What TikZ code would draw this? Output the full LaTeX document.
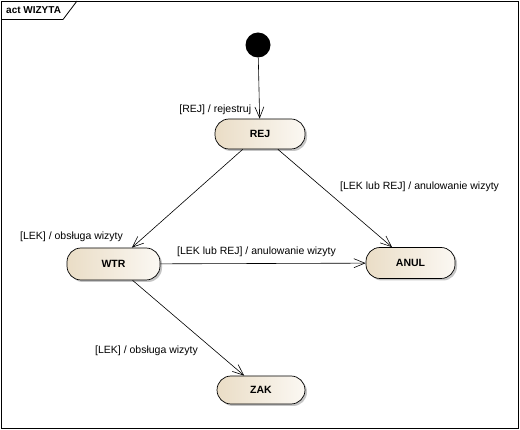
\documentclass[tikz,border=0pt]{standalone}
\usepackage{fontspec}
\setmainfont{Liberation Sans}
\usetikzlibrary{arrows.meta}
\usetikzlibrary{shadows}

\definecolor{stateleft}{HTML}{EADDC6}
\definecolor{stateright}{HTML}{FBF8F3}

\tikzset{
  state/.style={draw, line width=0.7pt, rounded corners=14pt, minimum width=90pt, minimum height=30pt,
    left color=stateleft, right color=stateright, font=\bfseries\fontsize{10.5}{12}\selectfont,
    drop shadow={shadow xshift=2pt, shadow yshift=-2pt, fill=black!45, opacity=0.5}},
  guard/.style={inner sep=0pt, font=\fontsize{10.5}{12}\selectfont},
  trans/.style={-{Straight Barb[length=11pt,width=9pt]}, line width=0.6pt},
}

\begin{document}
\begin{tikzpicture}[x=1pt, y=-1pt]
            \useasboundingbox (0,0) rectangle (520,430);
            % frame
            \draw[line width=0.8pt] (1,1) rectangle (518.5,428.5);
            \draw[line width=0.8pt] (1,19.5) -- (63,19.5) -- (77,1);
            \node[anchor=west, inner sep=0pt, font=\bfseries\fontsize{10}{12}\selectfont] (title) at (6,10) {act WIZYTA};
            % states
            \node[circle, fill=black, minimum size=25pt, inner sep=0pt] (start) at (258,45) {};
            \node[state] (REJ) at (260,134) {REJ};
            \node[state, minimum width=93pt, minimum height=32pt] (WTR) at (113.5,264) {WTR};
            \node[state, minimum width=89pt, minimum height=31pt] (ANUL) at (410.5,263) {ANUL};
            \node[state, minimum width=88pt, minimum height=28pt] (ZAK) at (261,390) {ZAK};
            % transitions
            \draw[trans] (start) to node[guard, anchor=east, pos=0.86, xshift=-8pt] {[REJ] / rejestruj} (REJ);
            \draw[trans] (REJ) to (WTR);
            \draw[trans] (REJ) to (ANUL);
            \draw[trans] (WTR) to (ANUL);
            \draw[trans] (WTR) to (ZAK);
            \node[guard, anchor=west] (lbl-wtr) at (20,237) {[LEK] / obsługa wizyty};
            \node[guard, anchor=west] (lbl-anul) at (340,187) {[LEK lub REJ] / anulowanie wizyty};
            \node[guard, anchor=west] (lbl-wtr-anul) at (177,252) {[LEK lub REJ] / anulowanie wizyty};
            \node[guard, anchor=west] (lbl-zak) at (95,351) {[LEK] / obsługa wizyty};
\end{tikzpicture}
\end{document}
